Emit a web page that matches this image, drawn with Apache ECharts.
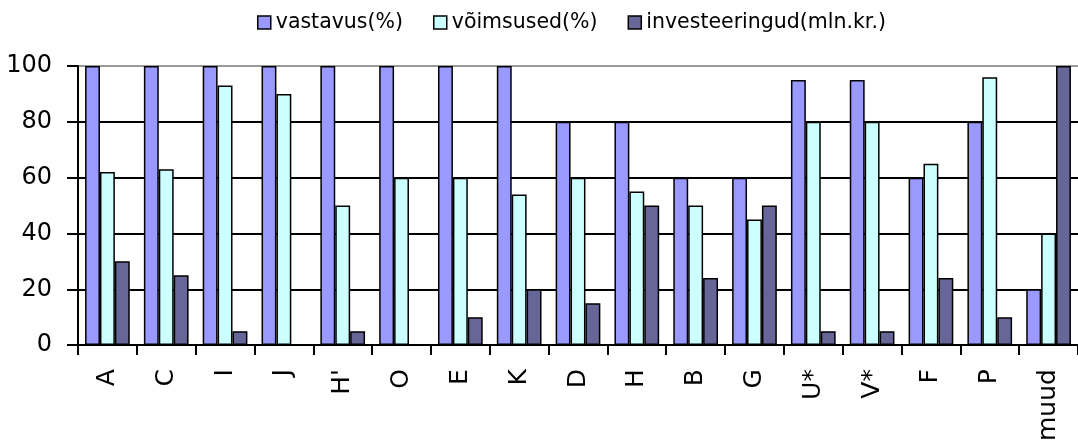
<!DOCTYPE html>
<html>
<head>
<meta charset="utf-8">
<script src="https://cdn.jsdelivr.net/npm/echarts@6/dist/echarts.min.js"></script>
<style>
  html, body { margin: 0; padding: 0; background: #fff; }
  #chart { width: 1078px; height: 444px; }
</style>
</head>
<body>
<div id="chart"></div>
<script>
// kategooriad ja andmed
const categories = ['A', 'C', 'I', 'J', "H'", 'O', 'E', 'K', 'D', 'H', 'B', 'G', 'U*', 'V*', 'F', 'P', 'muud'];
const vastavus = [100, 100, 100, 100, 100, 100, 100, 100, 80, 80, 60, 60, 95, 95, 60, 80, 20];
const voimsused = [62, 63, 93, 90, 50, 60, 60, 54, 60, 55, 50, 45, 80, 80, 65, 96, 40];
const investeeringud = [30, 25, 5, 0, 5, 0, 10, 20, 15, 50, 24, 50, 5, 5, 24, 10, 100];
const seriesNames = ['vastavus(%)', 'võimsused(%)', 'investeeringud(mln.kr.)'];
const seriesColors = ['#9999ff', '#ccffff', '#666699'];

const chart = echarts.init(document.getElementById('chart'));

const barSeries = function (name, data, color) {
  return {
    name: name,
    type: 'bar',
    data: data,
    barGap: '0%',
    barCategoryGap: '24%',
    itemStyle: {
      color: color,
      borderColor: '#000',
      borderWidth: 1.5
    }
  };
};

const option = {
  animation: false,
  textStyle: { fontFamily: 'DejaVu Sans', color: '#000' },
  legend: {
    top: 7,
    left: 252,
    itemWidth: 13,
    itemHeight: 13,
    itemGap: 30,
    icon: 'rect',
    itemStyle: { borderColor: '#000', borderWidth: 1.5 },
    textStyle: { fontSize: 20.5, color: '#000', fontFamily: 'DejaVu Sans' },
    data: seriesNames
  },
  grid: {
    left: 78,
    right: -11,
    top: 66,
    bottom: 98,
    containLabel: false
  },
  xAxis: {
    type: 'category',
    data: categories,
    axisLine: { lineStyle: { color: '#000', width: 2 } },
    axisTick: { show: true, length: 10, lineStyle: { color: '#000', width: 2 } },
    axisLabel: {
      rotate: 90,
      margin: 24,
      fontSize: 25,
      color: '#000',
      fontFamily: 'DejaVu Sans',
      interval: 0
    },
    splitLine: { show: false }
  },
  yAxis: {
    type: 'value',
    min: 0,
    max: 100,
    interval: 20,
    axisLine: { show: true, lineStyle: { color: '#000', width: 2 } },
    axisTick: { show: true, length: 11, lineStyle: { color: '#000', width: 2 } },
    axisLabel: { fontSize: 24, margin: 26, color: '#000', fontFamily: 'DejaVu Sans' },
    splitLine: {
      show: true,
      lineStyle: { color: ['#000', '#000', '#000', '#000', '#000', '#999'], width: 2 }
    }
  },
  series: [
    barSeries(seriesNames[0], vastavus, seriesColors[0]),
    barSeries(seriesNames[1], voimsused, seriesColors[1]),
    barSeries(seriesNames[2], investeeringud, seriesColors[2])
  ]
};

chart.setOption(option);
</script>
</body>
</html>
